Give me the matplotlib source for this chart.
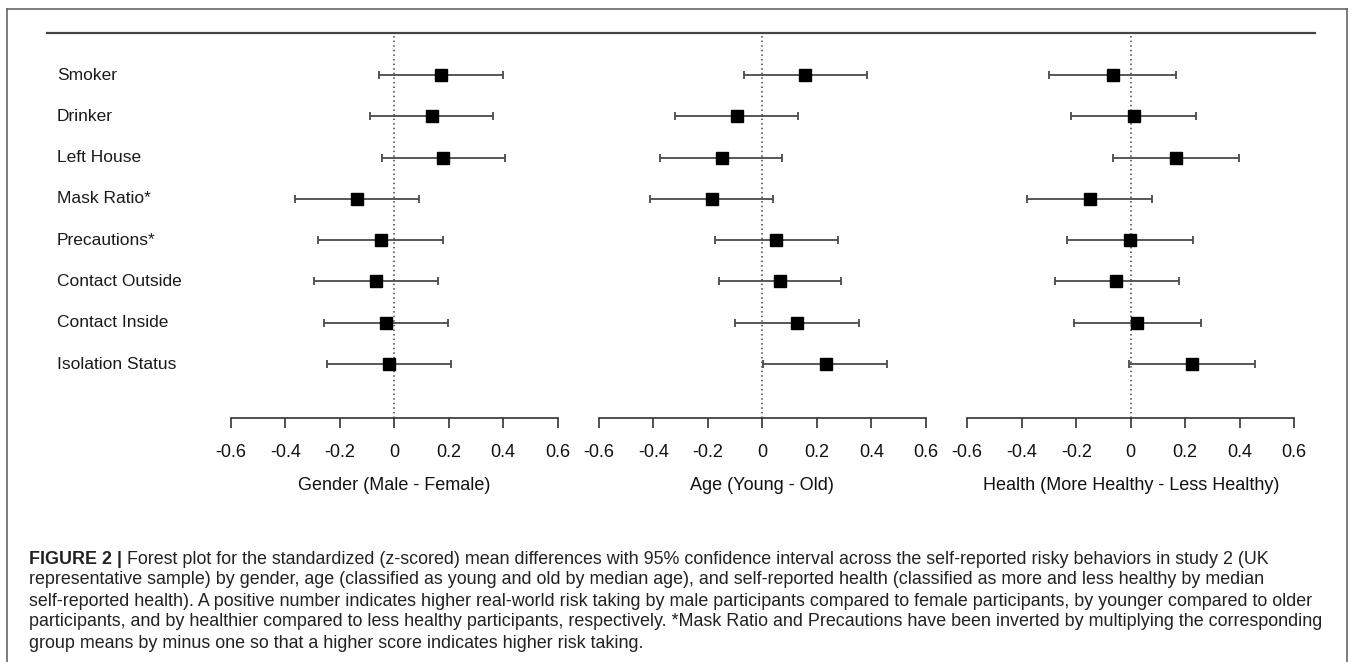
import matplotlib
matplotlib.use("Agg")
import matplotlib.pyplot as plt
from matplotlib import font_manager
from matplotlib.lines import Line2D
import matplotlib.transforms as mtransforms

# ---------------------------------------------------------------------------
# Data (standardized mean differences, 95% CI)
# ---------------------------------------------------------------------------
behaviors = ["Smoker", "Drinker", "Left House", "Mask Ratio*", "Precautions*",
             "Contact Outside", "Contact Inside", "Isolation Status"]

gender_mean = [0.170, 0.138, 0.180, -0.135, -0.050, -0.066, -0.029, -0.020]
gender_lo = [-0.055, -0.088, -0.045, -0.363, -0.278, -0.295, -0.256, -0.247]
gender_hi = [0.400, 0.364, 0.405, 0.092, 0.178, 0.162, 0.198, 0.207]

age_mean = [0.157, -0.094, -0.149, -0.185, 0.051, 0.065, 0.127, 0.234]
age_lo = [-0.067, -0.321, -0.376, -0.411, -0.174, -0.159, -0.099, 0.004]
age_hi = [0.384, 0.130, 0.071, 0.040, 0.277, 0.289, 0.354, 0.459]

health_mean = [-0.065, 0.012, 0.167, -0.151, -0.004, -0.053, 0.024, 0.225]
health_lo = [-0.299, -0.219, -0.064, -0.379, -0.233, -0.279, -0.208, -0.006]
health_hi = [0.168, 0.240, 0.399, 0.079, 0.228, 0.176, 0.257, 0.457]

panel_titles = ["Gender (Male - Female)", "Age (Young - Old)",
                "Health (More Healthy - Less Healthy)"]
tick_values = [-0.6, -0.4, -0.2, 0, 0.2, 0.4, 0.6]
tick_labels = ["-0.6", "-0.4", "-0.2", "0", "0.2", "0.4", "0.6"]

caption_lines = [
    "Forest plot for the standardized (z-scored) mean differences with 95% confidence interval across the self-reported risky behaviors in study 2 (UK",
    "representative sample) by gender, age (classified as young and old by median age), and self-reported health (classified as more and less healthy by median",
    "self-reported health). A positive number indicates higher real-world risk taking by male participants compared to female participants, by younger compared to older",
    "participants, and by healthier compared to less healthy participants, respectively. *Mask Ratio and Precautions have been inverted by multiplying the corresponding",
    "group means by minus one so that a higher score indicates higher risk taking.",
]

# ---------------------------------------------------------------------------
# Fonts
# ---------------------------------------------------------------------------
installed = {f.name for f in font_manager.fontManager.ttflist}
plt.rcParams['font.family'] = ['Liberation Sans', 'DejaVu Sans']
plt.rcParams['axes.unicode_minus'] = False
narrow = 'Liberation Sans Narrow' in installed
caption_family = 'Liberation Sans Narrow' if narrow else 'Liberation Sans'
cap_size = 15.0 if narrow else 12.9

W, H = 1358, 662
fig = plt.figure(figsize=(W / 100, H / 100), dpi=100)
fig.patch.set_facecolor('white')


def fx(px):
    return px / W


def fy(py):
    return 1 - py / H


# row layout in pixels: first row at y=75, step 41.3; plot area from y=33 to 418
row_y0, row_step = 75.0, 41.3
top_px, axis_px = 33.0, 418.0
ylim = ((axis_px - row_y0) / row_step, (top_px - row_y0) / row_step)

panel_zero = [394.2, 762.3, 1130.7]
half_px = 163.5
series = [(gender_mean, gender_lo, gender_hi),
          (age_mean, age_lo, age_hi),
          (health_mean, health_lo, health_hi)]

rows = list(range(len(behaviors)))
axes = []
for zero, (mean, lo, hi), title in zip(panel_zero, series, panel_titles):
    ax = fig.add_axes([fx(zero - half_px), fy(axis_px),
                       fx(2 * half_px), (axis_px - top_px) / H])
    ax.set_xlim(-0.6, 0.6)
    ax.set_ylim(*ylim)
    ax.patch.set_alpha(0)

    # zero reference line
    ax.axvline(0, color='#444444', linestyle=(0, (1, 2)), linewidth=1.1, zorder=1)

    xerr = [[m - l for m, l in zip(mean, lo)], [h - m for m, h in zip(mean, hi)]]
    ax.errorbar(mean, rows, xerr=xerr, fmt='none', ecolor='#4a4a4a',
                elinewidth=1.3, capsize=3.2, capthick=1.3, zorder=2)
    ax.plot(mean, rows, linestyle='none', marker='s', markersize=9,
            color='black', zorder=3)

    for s in ['top', 'right', 'left']:
        ax.spines[s].set_visible(False)
    ax.spines['bottom'].set_color('#333333')
    ax.spines['bottom'].set_linewidth(1.2)
    ax.set_yticks([])
    ax.set_xticks(tick_values)
    ax.set_xticklabels(tick_labels)
    ax.tick_params(axis='x', direction='out', length=7.5, width=1.2,
                   color='#333333', labelsize=13, pad=11, labelcolor='#111111')
    ax.set_xlabel(title, fontsize=13, labelpad=12, color='#111111')
    axes.append(ax)

# behaviour labels, left aligned at x=57 px
trans = mtransforms.blended_transform_factory(fig.transFigure, axes[0].transData)
for i, name in enumerate(behaviors):
    axes[0].text(fx(57), i, name, transform=trans, ha='left', va='center',
                 fontsize=12.5, color='#1a1a1a', clip_on=False)

# top rule across the whole plot
fig.add_artist(Line2D([fx(47), fx(1315)], [fy(top_px), fy(top_px)],
                      color='#444444', linewidth=1.6))

# outer frame (bottom edge runs off the image)
frame_kw = dict(color='#666666', linewidth=1.2)
fig.add_artist(Line2D([fx(7), fx(7)], [fy(9), 0], **frame_kw))
fig.add_artist(Line2D([fx(1347), fx(1347)], [fy(9), 0], **frame_kw))
fig.add_artist(Line2D([fx(7), fx(1347)], [fy(9), fy(9)], **frame_kw))

# ---------------------------------------------------------------------------
# Caption
# ---------------------------------------------------------------------------
cap_y = [559, 580, 601, 622, 643]
fig.canvas.draw()
renderer = fig.canvas.get_renderer()
bold = fig.text(fx(29), fy(cap_y[0]), "FIGURE 2 |", fontsize=cap_size,
                fontweight='bold', family=caption_family, color='#222222',
                va='center', ha='left')
bb = bold.get_window_extent(renderer=renderer)
fig.text(fx(bb.x1 + 5), fy(cap_y[0]), caption_lines[0], fontsize=cap_size,
         family=caption_family, color='#222222', va='center', ha='left')
for y, line in zip(cap_y[1:], caption_lines[1:]):
    fig.text(fx(29), fy(y), line, fontsize=cap_size, family=caption_family,
             color='#222222', va='center', ha='left')

fig.savefig('out.png', dpi=100, facecolor='white')
